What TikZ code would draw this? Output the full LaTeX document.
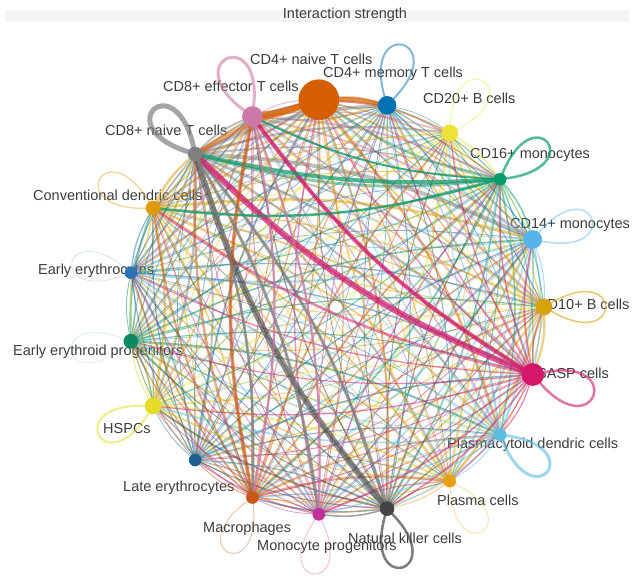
\documentclass[tikz,border=0pt]{standalone}
\usepackage{fontspec}
\setmainfont{Liberation Sans}
\usetikzlibrary{calc}
\pgfdeclarelayer{bg}
\pgfdeclarelayer{fg}
\pgfsetlayers{bg,main,fg}
\definecolor{c1}{HTML}{D8A20A}
\definecolor{c2}{HTML}{56B4E9}
\definecolor{c3}{HTML}{0A9B6A}
\definecolor{c4}{HTML}{EDE337}
\definecolor{c5}{HTML}{0072B2}
\definecolor{c6}{HTML}{D55E00}
\definecolor{c7}{HTML}{CC79A7}
\definecolor{c8}{HTML}{7F7F7F}
\definecolor{c9}{HTML}{DD9A0A}
\definecolor{c10}{HTML}{2A72B5}
\definecolor{c11}{HTML}{0B8A5F}
\definecolor{c12}{HTML}{E5DC2A}
\definecolor{c13}{HTML}{1B6090}
\definecolor{c14}{HTML}{C8581A}
\definecolor{c15}{HTML}{C0309A}
\definecolor{c16}{HTML}{444444}
\definecolor{c17}{HTML}{E8A010}
\definecolor{c18}{HTML}{5BBDE0}
\definecolor{c19}{HTML}{D3176B}
\definecolor{txt}{HTML}{3C3C3C}
\begin{document}
\begin{tikzpicture}[x=1pt,y=-1pt,
  lbl/.style={text=txt, font=\fontsize{14.5}{16}\selectfont, inner sep=0pt, anchor=west, text height=10.5pt, text depth=3pt},
  vtx/.style={circle, inner sep=0pt, draw=#1, fill=#1, line width=0.6pt},
  edg/.style={opacity=0.5, line cap=round},
  thk/.style={opacity=0.7, line cap=round},
  lp/.style={line cap=round}]
\useasboundingbox (0,0) rectangle (634,581);
\fill[black!4] (5,10) rectangle (629,22);
\node[text=txt, font=\fontsize{14.5}{16}\selectfont, inner sep=0pt] (title) at (345,15) {Interaction strength};
\coordinate (C) at (336,307);
% nodes (drawn on top layer)
\begin{pgfonlayer}{fg}
\foreach \k/\d in {1/16,2/18,3/12,4/16,5/18,6/40,7/20,8/14,9/14,10/12,11/14,12/16,13/12,14/12,15/12,16/14,17/12,18/12,19/22}{
  \pgfmathsetmacro\ang{(\k-1)*360/19}
  \node[vtx=c\k, minimum size=\d pt] (n\k) at ([shift={(\ang:208pt)}]C) {};
}
\end{pgfonlayer}
% labels (under the edges)
\begin{pgfonlayer}{bg}
\node[lbl] (l6) at (250,61) {CD4+ naive T cells};
\node[lbl] (l5) at (323,74) {CD4+ memory T cells};
\node[lbl] (l7) at (163,88) {CD8+ effector T cells};
\node[lbl] (l8) at (105,132) {CD8+ naive T cells};
\node[lbl] (l4) at (423,100) {CD20+ B cells};
\node[lbl] (l3) at (470,155) {CD16+ monocytes};
\node[lbl] (l2) at (510,225) {CD14+ monocytes};
\node[lbl] (l1) at (537,306) {CD10+ B cells};
\node[lbl] (l19) at (537,375) {SASP cells};
\node[lbl] (l18) at (447,445) {Plasmacytoid dendric cells};
\node[lbl] (l17) at (437,502) {Plasma cells};
\node[lbl] (l16) at (348,540) {Natural killer cells};
\node[lbl] (l15) at (257,547) {Monocyte progenitors};
\node[lbl] (l14) at (203,529) {Macrophages};
\node[lbl] (l13) at (123,488) {Late erythrocytes};
\node[lbl] (l12) at (103,430) {HSPCs};
\node[lbl] (l11) at (13,352) {Early erythroid progenitors};
\node[lbl] (l10) at (38,271) {Early erythrocytes};
\node[lbl] (l9) at (33,197) {Conventional dendric cells};
\end{pgfonlayer}
% mesh of edges
\def\S{{0.9,0.8,1.1,0.8,0.6,0.9,1.1,1.4,1.0,0.6,0.8,1.0,0.6,1.0,0.8,0.8,0.6,0.7,1.0}}
\pgfmathsetseed{7}
\foreach \i in {1,...,19}{
  \foreach \j in {1,...,19}{
    \ifnum\i=\j\relax\else
      \pgfmathsetmacro\ew{\S[\i-1]*(0.9+2.2*rnd*rnd)}
      \draw[edg, c\i, line width=\ew pt] (n\i) to[bend left=11] (n\j);
    \fi
  }
}
% strong edges
\draw[thk, c6, line width=7pt] (n6) to[bend left=6] (n7);
\draw[thk, c6, line width=4.5pt] (n6) to[bend left=6] (n5);
\draw[thk, c6, line width=4.5pt, opacity=.55] (n6) to[bend right=6] (n8);
\draw[thk, c16, line width=6pt, opacity=.6] (n16) to[bend left=11] (n8);
\draw[thk, c8, line width=2pt] (n8) to[bend left=11] (n16);
\draw[thk, c19, line width=6pt] (n19) to[bend left=11] (n8);
\draw[thk, c19, line width=4pt] (n19) to[bend left=11] (n7);
\draw[thk, c3, line width=4pt] (n3) to[bend left=8] (n8);
\draw[thk, c3, line width=2.5pt] (n3) to[bend left=11] (n9);
\draw[thk, c3, line width=2pt] (n3) to[bend left=11] (n7);
\draw[thk, c14, line width=3.5pt, opacity=.6] (n14) to[bend left=11] (n7);
\draw[thk, c8, line width=3pt] (n8) to[bend left=11] (n15);
\draw[thk, c8, line width=2.5pt] (n8) to[bend left=11] (n14);
\draw[thk, c7, line width=2pt] (n7) to[bend left=11] (n15);
\draw[thk, c7, line width=2pt] (n7) to[bend left=11] (n14);
% self loops
\foreach \k/\w/\o in {1/1.5/.6,2/1.5/.45,3/2.5/.7,4/1.2/.4,5/2/.5,7/3/.6,8/5/.7,9/1.2/.45,10/0.8/.2,11/0.8/.15,12/2/.55,14/1/.35,15/1/.3,16/2.5/.7,17/1/.3,18/3/.6,19/2.5/.6}{
  \pgfmathsetmacro\ao{(\k-1)*360/19+30}
  \pgfmathsetmacro\ai{(\k-1)*360/19-30}
  \draw[lp, c\k, line width=\w pt, opacity=\o] (n\k) to[out=\ao, in=\ai, distance=84pt] (n\k);
}
\end{tikzpicture}
\end{document}
